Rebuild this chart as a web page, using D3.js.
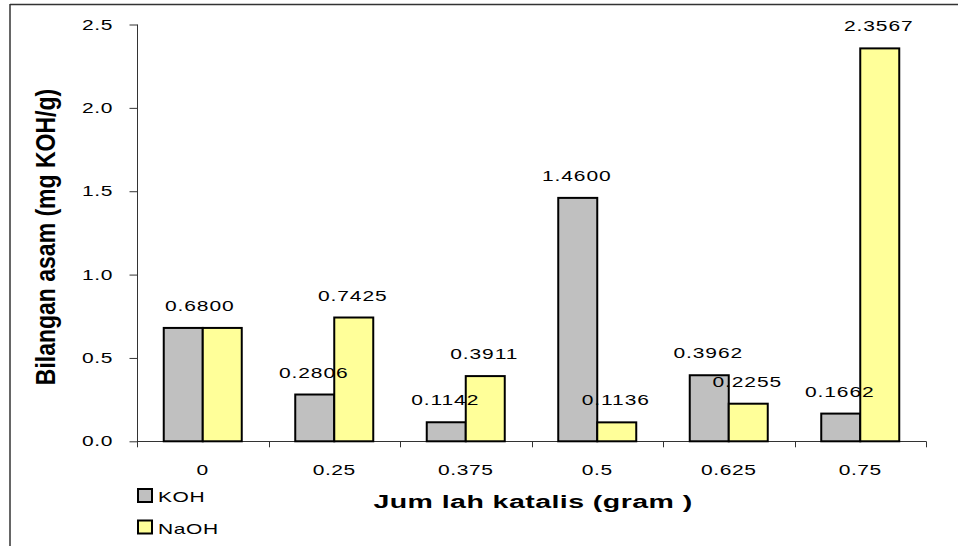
<!DOCTYPE html>
<html>
<head>
<meta charset="utf-8">
<script src="https://cdn.jsdelivr.net/npm/d3@7"></script>
<style>
  html, body { margin: 0; padding: 0; background: #fff; }
  svg { display: block; }
  text { font-family: Arial, "Liberation Sans", sans-serif; fill: #000; }
</style>
</head>
<body>
<svg id="chart" width="958" height="546"></svg>
<script>
const categories = ["0", "0.25", "0.375", "0.5", "0.625", "0.75"];
const kohValues  = [0.6800, 0.2806, 0.1142, 1.4600, 0.3962, 0.1662];
const naohValues = [0.6800, 0.7425, 0.3911, 0.1136, 0.2255, 2.3567];
const seriesNames = ["KOH", "NaOH"];
const seriesColors = ["#C0C0C0", "#FFFF99"];
const yTicks = [0, 0.5, 1.0, 1.5, 2.0, 2.5];
const yTitle = "Bilangan asam (mg KOH/g)";
const xTitle = "Jum lah katalis (gram )";

const svg = d3.select("#chart");
const SX = 1.5; // horizontal stretch of the text in the reference

// frame lines
svg.append("line").attr("x1", 10).attr("x2", 958).attr("y1", 4.5).attr("y2", 4.5)
  .attr("stroke", "#333").attr("stroke-width", 1.5);
svg.append("line").attr("x1", 10).attr("x2", 10).attr("y1", 4).attr("y2", 546)
  .attr("stroke", "#333").attr("stroke-width", 1.5);

const x = d3.scaleBand().domain(categories).range([137, 926]).paddingInner(0).paddingOuter(0);
const y = d3.scaleLinear().domain([0, 2.5]).range([441.3, 24.5]);
const barW = x.bandwidth() * 0.2966;

function sText(parent, tx, ty, str, opts) {
  const t = parent.append("text")
    .attr("transform", `translate(${tx},${ty}) scale(${opts.sx || SX},1)`)
    .attr("text-anchor", opts.anchor || "middle")
    .style("font-size", (opts.size || 14) + "px")
    .style("font-weight", opts.bold ? "bold" : "normal")
    .style("letter-spacing", (opts.ls || 0) + "px")
    .text(str);
  return t;
}

// Y axis
const yAxis = svg.append("g").attr("transform", "translate(137.5,0)")
  .call(d3.axisLeft(y).tickValues(yTicks).tickSize(8).tickFormat(d3.format(".1f")));
yAxis.select(".domain").attr("stroke", "#333").attr("d", `M0,${y(2.5)}V${y(0)}`);
yAxis.selectAll(".tick line").attr("stroke", "#333");
yAxis.selectAll(".tick text").remove();
yTicks.forEach(v => {
  sText(svg, 113, y(v) + 5, d3.format(".1f")(v), { anchor: "end", ls: 0.4 });
});

// X axis line and boundary ticks
svg.append("line").attr("x1", 137).attr("x2", 926).attr("y1", y(0) + 0.2).attr("y2", y(0) + 0.2)
  .attr("stroke", "#333").attr("stroke-width", 1);
const bounds = categories.map(c => x(c)).concat([x(categories[categories.length - 1]) + x.bandwidth()]);
svg.selectAll(".xb").data(bounds).enter().append("line")
  .attr("x1", d => Math.round(d) + 0.5).attr("x2", d => Math.round(d) + 0.5)
  .attr("y1", y(0)).attr("y2", y(0) + 6)
  .attr("stroke", "#333");
categories.forEach(c => {
  sText(svg, x(c) + x.bandwidth() / 2, 475, c, { ls: 0.4 });
});

// Bars
const series = [kohValues, naohValues];
series.forEach((vals, si) => {
  svg.selectAll(".bar" + si).data(vals).enter().append("rect")
    .attr("x", (d, i) => x(categories[i]) + x.bandwidth() / 2 + (si - 1) * barW)
    .attr("y", d => y(d))
    .attr("width", barW)
    .attr("height", d => y(0) - y(d))
    .attr("fill", seriesColors[si])
    .attr("stroke", "#000")
    .attr("stroke-width", 2);
});

// Data labels
categories.forEach((c, i) => {
  const cx = x(c) + x.bandwidth() / 2;
  if (kohValues[i] === naohValues[i]) {
    sText(svg, cx - 3, y(kohValues[i]) - 17, kohValues[i].toFixed(4), { ls: 0.6 });
  } else {
    series.forEach((vals, si) => {
      const bx = cx + (si - 0.5) * barW;
      sText(svg, bx - 1, y(vals[i]) - 17, vals[i].toFixed(4), { ls: 0.6 });
    });
  }
});

// Axis titles
sText(svg, 533, 508, xTitle, { size: 19, bold: true, ls: 0.3 });
svg.append("text")
  .attr("transform", `translate(55,237) scale(1.2,1) rotate(-90)`)
  .attr("text-anchor", "middle")
  .style("font-size", "23px").style("font-weight", "bold")
  .text(yTitle);

// Legend
seriesNames.forEach((n, i) => {
  const ly = 489 + i * 31.5;
  svg.append("rect").attr("x", 138).attr("y", ly).attr("width", 14).attr("height", 13)
    .attr("fill", seriesColors[i]).attr("stroke", "#000").attr("stroke-width", 2);
  sText(svg, 158, ly + 13, n, { anchor: "start", ls: 0.4 });
});
</script>
</body>
</html>
